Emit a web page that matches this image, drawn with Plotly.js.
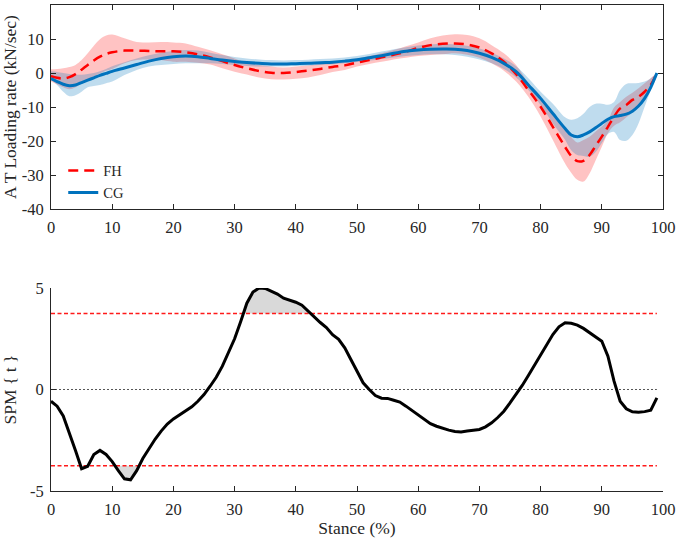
<!DOCTYPE html>
<html>
<head>
<meta charset="utf-8">
<script src="https://cdn.plot.ly/plotly-3.0.1.min.js"></script>
<style>html,body{margin:0;padding:0;background:#fff}#chart{width:676px;height:538px}</style>
</head>
<body>
<div id="chart"></div>
<script>
// ---------- Top panel data (stance %, AT loading rate kN/sec) ----------
var stanceTop = [0,1,2,3,4,5,6,7,8,9,10,12,14,16,18,20,22,24,26,28,30,32,34,36,38,40,42,44,46,48,50,52,54,56,58,60,62,64,66,68,70,72,74,76,78,80,82,84,85,86,87,88,89,90,91,92,93,94,95,96,97,98,99];
var fhMean = [-0.9,-1.4,-1.6,-1.2,-0.3,1.0,2.4,3.7,4.8,5.6,6.1,6.6,6.6,6.5,6.4,6.4,6.1,5.5,4.6,3.5,2.35,1.4,0.6,0.1,0,0.3,0.7,1.2,1.8,2.25,3.1,3.8,4.6,5.4,6.3,7.35,8.2,8.6,8.7,8.4,7.5,5.8,3.3,-0.3,-5,-9.9,-15.8,-21.7,-24.4,-25.9,-25.8,-24.1,-21.4,-18.7,-15.8,-12.8,-10.4,-9.4,-7.9,-7.0,-5.5,-3.5,0];
var fhUpper = [1.1,1.2,1.4,1.8,2.4,3.8,5.8,8,9.9,11,11.3,10.2,9.1,9,9.1,9,8.7,7.7,6.7,5.5,4.3,3,2.35,1.9,1.6,1.9,2.25,2.65,3.05,3.8,4.3,5,5.8,6.8,7.9,9,10.2,11,11.4,11.2,10.2,8.2,5.8,2.35,-3,-7,-11.9,-16.8,-18.8,-20.4,-19.7,-18.7,-17.2,-15.7,-13.9,-10.1,-8.5,-7,-5.8,-4.5,-3,-1.5,0];
var fhLower = [-2.5,-3.4,-4.2,-4.8,-4.2,-3,-1.9,-1.0,-0.1,0.7,1.2,2.85,3.8,4,3.8,3.3,3.3,3,2.5,1.4,0.4,-0.4,-1.3,-1.8,-1.9,-1.7,-1.3,-0.6,0.3,0.9,1.9,2.65,3.3,4,4.5,5,5.3,5.5,5.8,5.4,4.5,2.85,0.7,-2.5,-7,-12.8,-19.7,-26.6,-29.3,-31.4,-31.9,-29.5,-25.6,-21.7,-17.7,-15.5,-14.5,-13,-11.5,-9.5,-7,-4,0];
var cgMean = [-1.6,-2.5,-3.3,-3.7,-3.5,-2.8,-2.1,-1.4,-0.7,-0.1,0.5,1.5,2.5,3.5,4.3,4.8,5.0,4.8,4.3,3.8,3.4,3.1,2.85,2.65,2.65,2.75,2.85,3.05,3.2,3.5,3.9,4.5,5.1,5.8,6.4,6.8,7.0,7.05,7.0,6.6,5.8,4.6,2.85,0.4,-3.5,-7.45,-11.9,-16.3,-18.2,-18.7,-18.2,-17.3,-16.1,-14.8,-13.6,-12.8,-12.5,-12.1,-11.2,-9.7,-7.45,-4.2,0];
var cgUpper = [0.5,0.3,0,-0.3,-0.5,-0.5,-0.3,0,0.5,1.2,2,3.2,4.3,5.2,6,6.5,6.8,6.6,6.0,5.3,4.7,4.3,4.0,3.8,3.7,3.8,3.9,4.1,4.3,4.6,5.0,5.6,6.3,7.0,7.6,8.1,8.4,8.5,8.4,8.0,7.2,6.0,4.3,2.0,-1.5,-5.5,-9,-13,-13.7,-13.3,-12,-10,-9,-9,-9.3,-8.5,-5,-3.2,-3,-2.9,-2.5,-1.5,0];
var cgLower = [-2,-3.5,-5.5,-6.8,-6.5,-5.5,-4.2,-3.8,-3.5,-3.0,-2.5,-0.6,0.9,1.9,2.35,2.65,2.85,2.85,2.85,2.65,2.35,2.05,1.9,1.9,1.9,2.05,2.15,2.35,2.55,2.85,3.25,3.6,4.1,4.6,5.0,5.3,5.5,5.5,5.3,4.8,4.0,2.85,1.2,-1.3,-5,-9.4,-14.8,-19.6,-22.7,-24.1,-24.4,-24.6,-23.2,-20.6,-17.9,-17.3,-19.7,-19.9,-18.2,-14.8,-9.9,-5,0];

// ---------- Bottom panel data (SPM{t}) ----------
var stanceSpm = [];
for (var i = 0; i <= 99; i++) stanceSpm.push(i);
var spmT = [-0.58,-0.82,-1.3,-2.1,-3.0,-3.9,-3.78,-3.2,-3.0,-3.2,
 -3.55,-4.0,-4.4,-4.45,-4.0,-3.4,-2.9,-2.45,-2.05,-1.7,
 -1.45,-1.25,-1.07,-0.85,-0.58,-0.25,0.16,0.6,1.15,1.8,
 2.5,3.35,4.25,4.8,5.0,4.98,4.85,4.7,4.5,4.4,
 4.3,4.15,3.85,3.6,3.3,3.05,2.7,2.47,2.05,1.48,
 0.9,0.33,0,-0.3,-0.43,-0.44,-0.53,-0.62,-0.82,-1.04,
 -1.27,-1.48,-1.68,-1.81,-1.92,-2.0,-2.07,-2.09,-2.04,-2.02,
 -1.97,-1.84,-1.64,-1.38,-1.07,-0.66,-0.25,0.2,0.69,1.18,
 1.68,2.22,2.71,3.09,3.29,3.26,3.17,3.01,2.8,2.63,
 2.38,1.64,0.41,-0.58,-0.95,-1.1,-1.12,-1.09,-1.02,-0.41];
var tCritical = 3.75;

// Tick labels
var topXTicks = [0,10,20,30,40,50,60,70,80,90,100];
var topYTicks = [-40,-30,-20,-10,0,10,20];
var topYLabels = ['-40','-30','-20','-10','0','10','20'];
var botYTicks = [-5,0,5];
var botYLabels = ['-5','0','5'];

var FONT = 'Liberation Serif, Times New Roman, serif';
var AX = '#262626';

// Supra-threshold clusters (filled between threshold and curve)
function clusters(x, y, thr, sign) {
  var out = [], cur = null;
  function f(v){ return sign*(v) - thr; }
  for (var k = 0; k < x.length; k++) {
    var above = f(y[k]) > 0;
    if (above) {
      if (!cur) {
        cur = {x:[], y:[]};
        if (k > 0) {
          var a = f(y[k-1]), b = f(y[k]);
          var xc = x[k-1] + (x[k]-x[k-1]) * (-a)/(b-a);
          cur.x.push(xc); cur.y.push(sign*thr);
        }
      }
      cur.x.push(x[k]); cur.y.push(y[k]);
    } else if (cur) {
      var a2 = f(y[k-1]), b2 = f(y[k]);
      var xc2 = x[k-1] + (x[k]-x[k-1]) * (-a2)/(b2-a2);
      cur.x.push(xc2); cur.y.push(sign*thr);
      out.push(cur); cur = null;
    }
  }
  if (cur) out.push(cur);
  return out;
}

var traces = [];
// Bands
traces.push({x: stanceTop, y: fhLower, mode:'lines', line:{width:0, shape:'spline'}, showlegend:false, hoverinfo:'skip', xaxis:'x', yaxis:'y'});
traces.push({x: stanceTop, y: fhUpper, mode:'lines', line:{width:0, shape:'spline'}, fill:'tonexty', fillcolor:'rgba(255,40,40,0.28)', showlegend:false, hoverinfo:'skip', xaxis:'x', yaxis:'y'});
traces.push({x: stanceTop, y: cgLower, mode:'lines', line:{width:0, shape:'spline'}, showlegend:false, hoverinfo:'skip', xaxis:'x', yaxis:'y'});
traces.push({x: stanceTop, y: cgUpper, mode:'lines', line:{width:0, shape:'spline'}, fill:'tonexty', fillcolor:'rgba(0,114,189,0.25)', showlegend:false, hoverinfo:'skip', xaxis:'x', yaxis:'y'});
// Means
traces.push({x: stanceTop, y: fhMean, name:'FH', mode:'lines', line:{color:'#ff0000', width:2.5, dash:'10px,6px', shape:'spline'}, xaxis:'x', yaxis:'y'});
traces.push({x: stanceTop, y: cgMean, name:'CG', mode:'lines', line:{color:'#0072bd', width:3, shape:'spline'}, xaxis:'x', yaxis:'y'});

// Bottom: clusters
var xEnds = [stanceSpm[0], stanceSpm[stanceSpm.length-1]];
clusters(stanceSpm, spmT, tCritical, 1).concat(clusters(stanceSpm, spmT, tCritical, -1)).forEach(function(c){
  traces.push({x:c.x, y:c.y, mode:'lines', line:{width:0}, fill:'toself', fillcolor:'#d9d9d9', showlegend:false, hoverinfo:'skip', xaxis:'x2', yaxis:'y2'});
});
traces.push({x: xEnds, y:[0,0], mode:'lines', line:{color:'#555555', width:1, dash:'2px,2px'}, showlegend:false, xaxis:'x2', yaxis:'y2'});
traces.push({x: xEnds, y:[tCritical,tCritical], mode:'lines', line:{color:'#ff1a1a', width:1.5, dash:'4px,2.5px'}, showlegend:false, xaxis:'x2', yaxis:'y2'});
traces.push({x: xEnds, y:[-tCritical,-tCritical], mode:'lines', line:{color:'#ff1a1a', width:1.5, dash:'4px,2.5px'}, showlegend:false, xaxis:'x2', yaxis:'y2'});
traces.push({x: stanceSpm, y: spmT, mode:'lines', line:{color:'#000000', width:3}, showlegend:false, xaxis:'x2', yaxis:'y2'});

var tickfont = {family: FONT, size: 16.5, color: AX};
var titlefont = {family: FONT, size: 17.5, color: AX};
var baseAxis = {showgrid:false, zeroline:false, showline:true, linecolor:AX, linewidth:1, ticks:'inside', ticklen:5, tickcolor:AX, tickwidth:1, tickfont:tickfont, automargin:false};

function ax(o){ var r = {}; for (var k in baseAxis) r[k]=baseAxis[k]; for (var k2 in o) r[k2]=o[k2]; return r; }

var layout = {
  width: 676, height: 538,
  margin: {l:51, r:13, t:5, b:47},
  paper_bgcolor:'#ffffff', plot_bgcolor:'#ffffff',
  showlegend: true,
  legend: {x:0.02, y:0.692, xanchor:'left', yanchor:'top', traceorder:'normal', bgcolor:'rgba(0,0,0,0)', font:{family:FONT, size:14.5, color:AX}, tracegroupgap:0, itemwidth:30},
  xaxis: ax({range:[0,100], domain:[0,1], anchor:'y', tickvals:topXTicks, mirror:'ticks', ticklabelstandoff:3}),
  yaxis: ax({range:[-40,20], domain:[0.58,1], anchor:'x', tickvals:topYTicks, ticktext:topYLabels, mirror:'ticks', ticklabelstandoff:3,
    title:{text:'A T Loading rate (kN/sec)', font:titlefont, standoff:3}}),
  xaxis2: ax({range:[0,100], domain:[0,1], anchor:'y2', tickvals:topXTicks, ticklabelstandoff:3,
    title:{text:'Stance (%)', font:titlefont, standoff:9}}),
  yaxis2: ax({range:[-5,5], domain:[0,0.4177], anchor:'x2', tickvals:botYTicks, ticktext:botYLabels, ticklabelstandoff:3,
    title:{text:'SPM { t }', font:titlefont, standoff:10}})
};

Plotly.newPlot('chart', traces, layout, {displayModeBar:false, staticPlot:true});
</script>
</body>
</html>
